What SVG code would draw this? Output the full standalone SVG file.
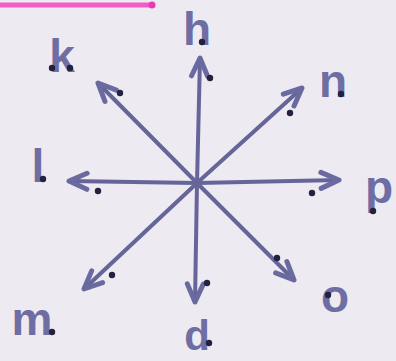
<svg xmlns="http://www.w3.org/2000/svg" width="396" height="361" viewBox="0 0 396 361">
<style>
.lbl{font-family:"Liberation Sans",Arial,sans-serif;font-size:46px;font-weight:bold;fill:#6e6ea4;text-anchor:middle}
.arr{stroke:#65659a;stroke-width:4;stroke-linecap:round;fill:none;marker-end:url(#ah)}
.dot{fill:#22223f}
</style>
<defs>
<marker id="ah" viewBox="0 0 24 24" refX="21" refY="12" markerWidth="24" markerHeight="24" markerUnits="userSpaceOnUse" orient="auto">
<path d="M3,4 L21,12 L3,20" fill="none" stroke="#6a6aa0" stroke-width="5" stroke-linecap="round" stroke-linejoin="round"/>
</marker>
</defs>
<rect width="396" height="361" fill="#edeaf1"/>
<line x1="0" y1="5" x2="152" y2="5" stroke="#f35cc6" stroke-width="5"/>
<circle cx="152" cy="5" r="3.5" fill="#e83cb4"/>
<g id="connectors">
<line class="arr" x1="197" y1="183" x2="200" y2="58"/>
<line class="arr" x1="197" y1="183" x2="195" y2="302"/>
<line class="arr" x1="197" y1="183" x2="69" y2="181"/>
<line class="arr" x1="197" y1="183" x2="339" y2="180"/>
<line class="arr" x1="197" y1="183" x2="98" y2="83"/>
<line class="arr" x1="197" y1="183" x2="302" y2="88"/>
<line class="arr" x1="197" y1="183" x2="84" y2="289"/>
<line class="arr" x1="197" y1="183" x2="294" y2="280"/>
<circle class="dot" cx="210" cy="78" r="3.2"/>
<circle class="dot" cx="120" cy="93" r="3.2"/>
<circle class="dot" cx="290" cy="113" r="3.2"/>
<circle class="dot" cx="98" cy="191" r="3.2"/>
<circle class="dot" cx="312" cy="193" r="3.2"/>
<circle class="dot" cx="277" cy="258" r="3.2"/>
<circle class="dot" cx="207" cy="283" r="3.2"/>
<circle class="dot" cx="112" cy="275" r="3.2"/>
</g>
<g id="h"><text class="lbl" x="197" y="45">h</text><circle class="dot" cx="202" cy="42" r="3.2"/></g>
<g id="k"><text class="lbl" x="62" y="72">k</text><circle class="dot" cx="52" cy="68" r="3.2"/><circle class="dot" cx="70" cy="68" r="3.2"/></g>
<g id="n"><text class="lbl" x="333" y="97">n</text><circle class="dot" cx="341" cy="94" r="3.2"/></g>
<g id="l"><text class="lbl" x="38" y="182">l</text><circle class="dot" cx="43" cy="179" r="3.2"/></g>
<g id="p"><text class="lbl" x="379" y="203">p</text><circle class="dot" cx="373" cy="211" r="3.2"/></g>
<g id="o"><text class="lbl" x="335" y="312">o</text><circle class="dot" cx="328" cy="295" r="3.2"/></g>
<g id="d"><text class="lbl" x="197" y="350" style="font-size:42px">d</text><circle class="dot" cx="209" cy="343" r="3.2"/></g>
<g id="m"><text class="lbl" x="32" y="335">m</text><circle class="dot" cx="52" cy="332" r="3.2"/></g>
</svg>
